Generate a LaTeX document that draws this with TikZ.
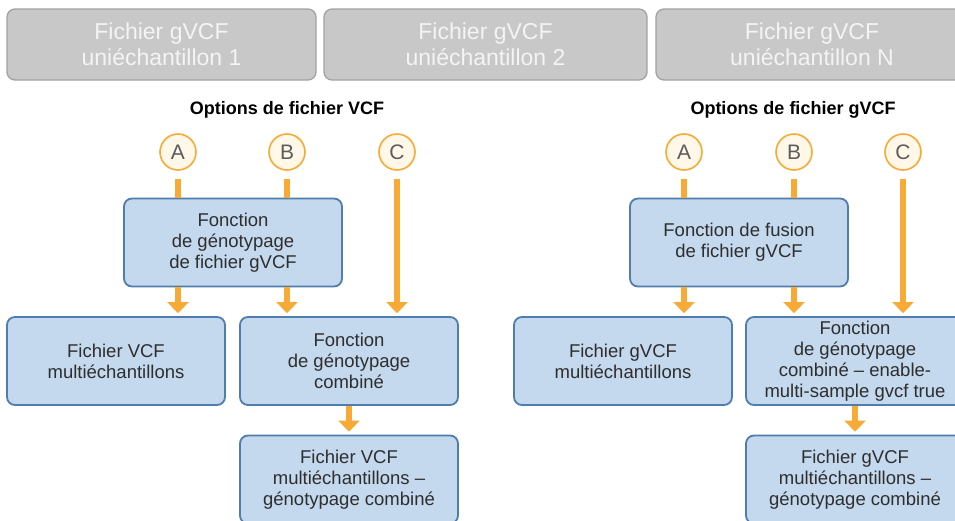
\documentclass[tikz,border=0pt]{standalone}
\usepackage{fontspec}
\setmainfont{Liberation Sans}
\usetikzlibrary{arrows.meta}
\definecolor{grayfill}{HTML}{C8C8C8}
\definecolor{grayline}{HTML}{A2A2A2}
\definecolor{graytext}{HTML}{F4F4F4}
\definecolor{bluefill}{HTML}{C4D8EE}
\definecolor{blueline}{HTML}{4E7DAE}
\definecolor{orng}{HTML}{F7AA35}
\definecolor{cream}{HTML}{FFF7E8}
\definecolor{lettergray}{HTML}{5C5C5C}
\definecolor{boxtext}{HTML}{2E2E2E}
\tikzset{
  x=1pt, y=-1pt,
  graybox/.style={draw=grayline, line width=1.3pt, fill=grayfill, rounded corners=8pt,
    minimum height=71pt, inner sep=0pt, align=center, text=graytext,
    font=\fontsize{23}{26.5}\selectfont},
  bluebox/.style={draw=blueline, line width=1.8pt, fill=bluefill, rounded corners=8pt,
    minimum width=218pt, minimum height=88pt, inner sep=0pt, align=center, text=boxtext,
    font=\fontsize{18.5}{21}\selectfont},
  optcircle/.style={circle, draw=orng, line width=1.6pt, fill=cream, minimum size=36pt,
    inner sep=0pt, text=lettergray, font=\fontsize{21}{22}\selectfont},
  titletext/.style={font=\bfseries\fontsize{18}{21}\selectfont, text=black},
  flowline/.style={draw=orng, line width=6.5pt},
  flowarrow/.style={draw=orng, line width=6.5pt, -{Triangle[width=21pt, length=11pt]}},
}
\begin{document}
\begin{tikzpicture}
\useasboundingbox (0,0) rectangle (955,520);
\clip (0,0) rectangle (955,520);

% top grey boxes
\node[graybox, minimum width=309pt] (g1) at (161.5,44.5) {Fichier gVCF\\uniéchantillon 1};
\node[graybox, minimum width=323pt] (g2) at (485.5,44.5) {Fichier gVCF\\uniéchantillon 2};
\node[graybox, minimum width=312pt] (g3) at (812,44.5) {Fichier gVCF\\uniéchantillon N};

% titles
\node[titletext] (t1) at (287,110) {Options de fichier VCF};
\node[titletext] (t2) at (793,110) {Options de fichier gVCF};

% circles left
\node[optcircle] (la) at (178,152) {A};
\node[optcircle] (lb) at (287,152) {B};
\node[optcircle] (lc) at (397,152) {C};
% circles right
\node[optcircle] (ra) at (684,152) {A};
\node[optcircle] (rb) at (794,152) {B};
\node[optcircle] (rc) at (903,152) {C};

% left boxes
\node[bluebox] (lgeno) at (233,242.5) {Fonction\\de génotypage\\de fichier gVCF};
\node[bluebox] (lmulti) at (116,361) {Fichier VCF\\multiéchantillons};
\node[bluebox] (ljoint) at (349,361) {Fonction\\de génotypage\\combiné};
\node[bluebox] (lres) at (349,479.5) {Fichier VCF\\multiéchantillons –\\génotypage combiné};

% right boxes
\node[bluebox] (rmerge) at (739,242.5) {Fonction de fusion\\de fichier gVCF};
\node[bluebox] (rmulti) at (623,361) {Fichier gVCF\\multiéchantillons};
\node[bluebox] (rjoint) at (855,361) {Fonction\\de génotypage\\combiné – enable-\\multi-sample gvcf true};
\node[bluebox] (rres) at (855,479.5) {Fichier gVCF\\multiéchantillons –\\génotypage combiné};

% connectors left
\draw[flowline] ([yshift=-8pt]la.south) -- (la.south |- lgeno.north);
\draw[flowline] ([yshift=-8pt]lb.south) -- (lb.south |- lgeno.north);
\draw[flowarrow] ([yshift=-8pt]lc.south) -- ([yshift=3pt]lc.south |- ljoint.north);
\draw[flowarrow] (la.south |- lgeno.south) -- ([yshift=3pt]la.south |- lmulti.north);
\draw[flowarrow] (lb.south |- lgeno.south) -- ([yshift=3pt]lb.south |- ljoint.north);
\draw[flowarrow] (ljoint.south) -- ([yshift=3pt]lres.north);

% connectors right
\draw[flowline] ([yshift=-8pt]ra.south) -- (ra.south |- rmerge.north);
\draw[flowline] ([yshift=-8pt]rb.south) -- (rb.south |- rmerge.north);
\draw[flowarrow] ([yshift=-8pt]rc.south) -- ([yshift=3pt]rc.south |- rjoint.north);
\draw[flowarrow] (ra.south |- rmerge.south) -- ([yshift=3pt]ra.south |- rmulti.north);
\draw[flowarrow] (rb.south |- rmerge.south) -- ([yshift=3pt]rb.south |- rjoint.north);
\draw[flowarrow] (rjoint.south) -- ([yshift=3pt]rres.north);
\end{tikzpicture}
\end{document}
